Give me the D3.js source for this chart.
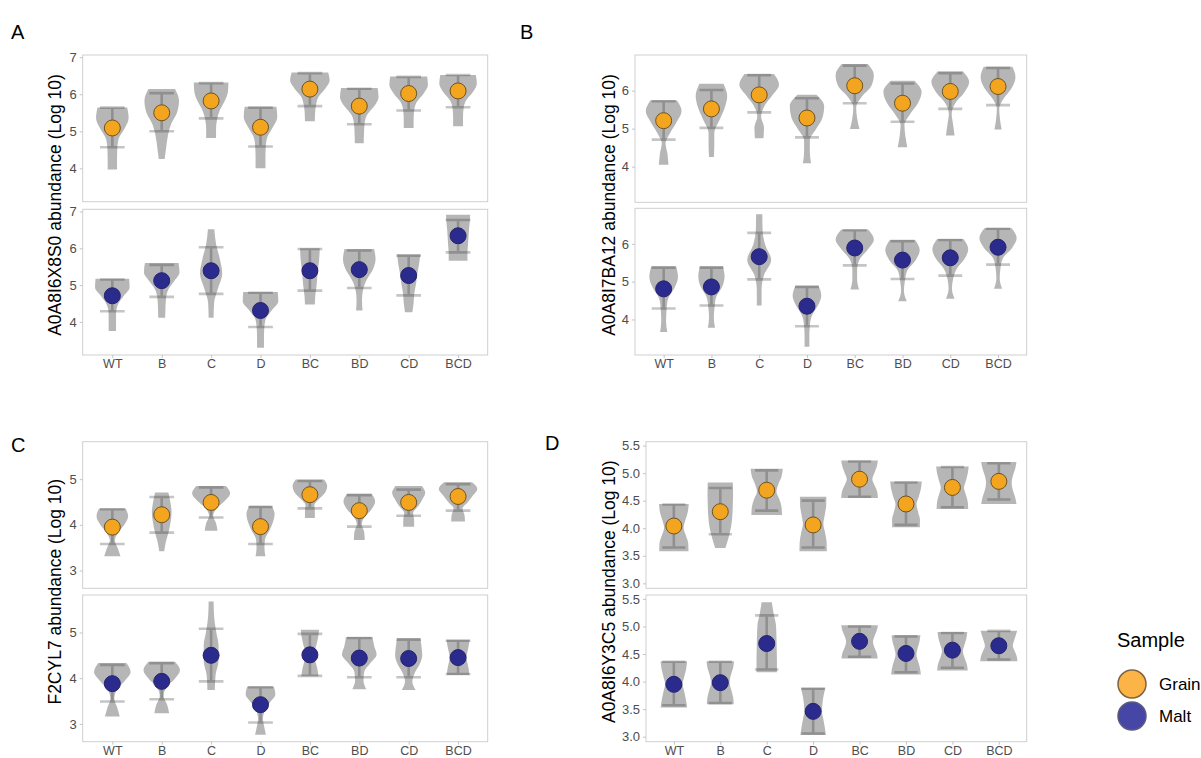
<!DOCTYPE html>
<html>
<head>
<meta charset="utf-8">
<script src="https://cdn.jsdelivr.net/npm/d3@7"></script>
<style>
  html, body { margin: 0; padding: 0; background: #ffffff; }
  svg { display: block; font-family: "Liberation Sans", Arial, Helvetica, sans-serif; }
</style>
</head>
<body>
<svg id="chart" width="1201" height="758"></svg>
<script>
// Genotype groups on the x axis
const categories = ["WT", "B", "C", "D", "BC", "BD", "CD", "BCD"];

// Each record: violin range (lo..hi), mean, error bar ends, and the violin's
// relative width (fraction of a category step) at 7 evenly spaced levels from lo to hi.
const aGrain = [
  { lo: 3.97, hi: 5.64, mean: 5.09, bar: [4.57, 5.64], w: [0.19, 0.19, 0.20, 0.26, 0.50, 0.66, 0.60] },
  { lo: 4.25, hi: 6.14, mean: 5.50, bar: [5.00, 6.03], w: [0.12, 0.18, 0.25, 0.38, 0.62, 0.70, 0.54] },
  { lo: 4.82, hi: 6.32, mean: 5.82, bar: [5.35, 6.30], w: [0.20, 0.20, 0.24, 0.35, 0.55, 0.68, 0.70] },
  { lo: 4.00, hi: 5.66, mean: 5.11, bar: [4.59, 5.64], w: [0.20, 0.20, 0.21, 0.27, 0.50, 0.68, 0.64] },
  { lo: 5.27, hi: 6.59, mean: 6.14, bar: [5.68, 6.57], w: [0.20, 0.21, 0.25, 0.35, 0.62, 0.80, 0.74] },
  { lo: 4.68, hi: 6.17, mean: 5.68, bar: [5.19, 6.15], w: [0.18, 0.19, 0.21, 0.30, 0.60, 0.78, 0.74] },
  { lo: 5.09, hi: 6.48, mean: 6.02, bar: [5.56, 6.47], w: [0.20, 0.20, 0.22, 0.32, 0.60, 0.78, 0.75] },
  { lo: 5.14, hi: 6.52, mean: 6.09, bar: [5.65, 6.52], w: [0.20, 0.20, 0.22, 0.32, 0.60, 0.76, 0.72] }
];
const aMalt = [
  { lo: 3.75, hi: 5.17, mean: 4.71, bar: [4.29, 5.15], w: [0.15, 0.15, 0.15, 0.22, 0.45, 0.70, 0.68] },
  { lo: 4.11, hi: 5.60, mean: 5.12, bar: [4.68, 5.55], w: [0.14, 0.15, 0.17, 0.25, 0.50, 0.72, 0.68] },
  { lo: 4.11, hi: 6.52, mean: 5.39, bar: [4.76, 6.03], w: [0.10, 0.12, 0.28, 0.45, 0.35, 0.20, 0.13] },
  { lo: 3.30, hi: 4.81, mean: 4.31, bar: [3.86, 4.79], w: [0.14, 0.14, 0.15, 0.20, 0.45, 0.72, 0.70] },
  { lo: 4.47, hi: 6.00, mean: 5.39, bar: [4.85, 5.98], w: [0.20, 0.22, 0.27, 0.30, 0.34, 0.38, 0.40] },
  { lo: 4.31, hi: 5.98, mean: 5.42, bar: [4.92, 5.94], w: [0.13, 0.11, 0.15, 0.30, 0.55, 0.66, 0.60] },
  { lo: 4.26, hi: 5.83, mean: 5.26, bar: [4.72, 5.80], w: [0.15, 0.20, 0.23, 0.30, 0.35, 0.42, 0.47] },
  { lo: 5.66, hi: 6.91, mean: 6.34, bar: [5.89, 6.77], w: [0.38, 0.38, 0.40, 0.42, 0.44, 0.47, 0.49] }
];
const bGrain = [
  { lo: 4.05, hi: 5.75, mean: 5.21, bar: [4.71, 5.72], w: [0.20, 0.16, 0.08, 0.28, 0.55, 0.75, 0.55] },
  { lo: 4.25, hi: 6.18, mean: 5.52, bar: [5.02, 6.02], w: [0.10, 0.12, 0.12, 0.33, 0.55, 0.66, 0.50] },
  { lo: 4.75, hi: 6.44, mean: 5.89, bar: [5.43, 6.41], w: [0.18, 0.20, 0.08, 0.22, 0.55, 0.83, 0.62] },
  { lo: 4.09, hi: 5.89, mean: 5.28, bar: [4.77, 5.80], w: [0.17, 0.12, 0.12, 0.38, 0.65, 0.72, 0.40] },
  { lo: 4.99, hi: 6.70, mean: 6.13, bar: [5.67, 6.66], w: [0.20, 0.10, 0.06, 0.30, 0.70, 0.80, 0.55] },
  { lo: 4.51, hi: 6.26, mean: 5.67, bar: [5.18, 6.19], w: [0.20, 0.12, 0.08, 0.32, 0.65, 0.80, 0.50] },
  { lo: 4.82, hi: 6.51, mean: 5.98, bar: [5.52, 6.46], w: [0.18, 0.12, 0.06, 0.20, 0.58, 0.79, 0.52] },
  { lo: 4.98, hi: 6.63, mean: 6.11, bar: [5.62, 6.60], w: [0.15, 0.08, 0.05, 0.25, 0.58, 0.73, 0.60] }
];
const bMalt = [
  { lo: 3.67, hi: 5.41, mean: 4.81, bar: [4.29, 5.37], w: [0.15, 0.10, 0.12, 0.18, 0.45, 0.60, 0.52] },
  { lo: 3.78, hi: 5.41, mean: 4.86, bar: [4.37, 5.37], w: [0.15, 0.10, 0.13, 0.20, 0.45, 0.55, 0.48] },
  { lo: 4.37, hi: 6.78, mean: 5.66, bar: [5.06, 6.29], w: [0.10, 0.10, 0.20, 0.50, 0.25, 0.14, 0.13] },
  { lo: 3.28, hi: 4.90, mean: 4.35, bar: [3.82, 4.86], w: [0.10, 0.10, 0.12, 0.20, 0.45, 0.60, 0.48] },
  { lo: 4.79, hi: 6.38, mean: 5.89, bar: [5.43, 6.36], w: [0.18, 0.10, 0.10, 0.20, 0.55, 0.80, 0.56] },
  { lo: 4.48, hi: 6.11, mean: 5.57, bar: [5.07, 6.07], w: [0.18, 0.06, 0.10, 0.20, 0.55, 0.72, 0.52] },
  { lo: 4.55, hi: 6.13, mean: 5.63, bar: [5.16, 6.10], w: [0.18, 0.07, 0.12, 0.27, 0.60, 0.75, 0.55] },
  { lo: 4.81, hi: 6.42, mean: 5.91, bar: [5.45, 6.40], w: [0.17, 0.07, 0.10, 0.20, 0.58, 0.78, 0.56] }
];
const cGrain = [
  { lo: 3.31, hi: 4.36, mean: 3.95, bar: [3.58, 4.34], w: [0.33, 0.22, 0.10, 0.25, 0.50, 0.64, 0.54] },
  { lo: 3.42, hi: 4.71, mean: 4.22, bar: [3.83, 4.61], w: [0.10, 0.17, 0.28, 0.36, 0.40, 0.35, 0.27] },
  { lo: 3.87, hi: 4.85, mean: 4.49, bar: [4.16, 4.82], w: [0.26, 0.20, 0.08, 0.22, 0.55, 0.77, 0.60] },
  { lo: 3.31, hi: 4.42, mean: 3.96, bar: [3.58, 4.39], w: [0.20, 0.16, 0.18, 0.35, 0.50, 0.57, 0.44] },
  { lo: 4.15, hi: 4.99, mean: 4.66, bar: [4.36, 4.96], w: [0.20, 0.20, 0.18, 0.38, 0.62, 0.70, 0.57] },
  { lo: 3.67, hi: 4.68, mean: 4.31, bar: [3.96, 4.65], w: [0.22, 0.20, 0.10, 0.22, 0.50, 0.64, 0.50] },
  { lo: 3.96, hi: 4.85, mean: 4.49, bar: [4.20, 4.77], w: [0.22, 0.22, 0.18, 0.38, 0.55, 0.67, 0.54] },
  { lo: 4.07, hi: 4.93, mean: 4.62, bar: [4.31, 4.89], w: [0.28, 0.26, 0.18, 0.40, 0.60, 0.78, 0.57] }
];
const cMalt = [
  { lo: 3.16, hi: 4.33, mean: 3.88, bar: [3.49, 4.29], w: [0.30, 0.20, 0.08, 0.18, 0.50, 0.74, 0.57] },
  { lo: 3.23, hi: 4.36, mean: 3.93, bar: [3.54, 4.33], w: [0.30, 0.22, 0.08, 0.18, 0.52, 0.74, 0.54] },
  { lo: 3.74, hi: 5.68, mean: 4.50, bar: [3.93, 5.08], w: [0.15, 0.18, 0.30, 0.30, 0.20, 0.12, 0.10] },
  { lo: 2.76, hi: 3.82, mean: 3.42, bar: [3.03, 3.80], w: [0.22, 0.15, 0.10, 0.18, 0.38, 0.60, 0.54] },
  { lo: 4.04, hi: 5.06, mean: 4.51, bar: [4.05, 4.97], w: [0.35, 0.30, 0.22, 0.18, 0.26, 0.33, 0.37] },
  { lo: 3.76, hi: 4.90, mean: 4.44, bar: [4.02, 4.88], w: [0.28, 0.17, 0.20, 0.45, 0.70, 0.60, 0.54] },
  { lo: 3.74, hi: 4.88, mean: 4.43, bar: [4.02, 4.84], w: [0.28, 0.15, 0.25, 0.45, 0.55, 0.52, 0.47] },
  { lo: 4.07, hi: 4.84, mean: 4.45, bar: [4.09, 4.82], w: [0.45, 0.43, 0.38, 0.34, 0.38, 0.43, 0.47] }
];
const dGrain = [
  { lo: 3.58, hi: 4.44, mean: 4.04, bar: [3.65, 4.43], w: [0.63, 0.62, 0.52, 0.42, 0.50, 0.60, 0.64] },
  { lo: 3.64, hi: 4.83, mean: 4.30, bar: [3.89, 4.73], w: [0.22, 0.36, 0.47, 0.52, 0.54, 0.55, 0.54] },
  { lo: 4.24, hi: 5.08, mean: 4.69, bar: [4.32, 5.05], w: [0.66, 0.64, 0.55, 0.42, 0.50, 0.64, 0.69] },
  { lo: 3.58, hi: 4.57, mean: 4.06, bar: [3.65, 4.50], w: [0.59, 0.58, 0.52, 0.44, 0.50, 0.56, 0.57] },
  { lo: 4.55, hi: 5.23, mean: 4.89, bar: [4.57, 5.21], w: [0.79, 0.76, 0.65, 0.55, 0.64, 0.74, 0.79] },
  { lo: 4.02, hi: 4.85, mean: 4.44, bar: [4.06, 4.83], w: [0.60, 0.60, 0.52, 0.45, 0.55, 0.64, 0.68] },
  { lo: 4.35, hi: 5.12, mean: 4.74, bar: [4.38, 5.11], w: [0.68, 0.66, 0.58, 0.50, 0.58, 0.66, 0.70] },
  { lo: 4.44, hi: 5.20, mean: 4.85, bar: [4.52, 5.18], w: [0.76, 0.70, 0.60, 0.55, 0.60, 0.70, 0.76] }
];
const dMalt = [
  { lo: 3.53, hi: 4.37, mean: 3.95, bar: [3.57, 4.36], w: [0.57, 0.52, 0.45, 0.38, 0.45, 0.53, 0.57] },
  { lo: 3.59, hi: 4.37, mean: 3.98, bar: [3.61, 4.36], w: [0.58, 0.55, 0.47, 0.40, 0.45, 0.55, 0.59] },
  { lo: 4.17, hi: 5.44, mean: 4.69, bar: [4.22, 5.20], w: [0.44, 0.44, 0.43, 0.42, 0.40, 0.30, 0.22] },
  { lo: 3.03, hi: 3.89, mean: 3.46, bar: [3.06, 3.87], w: [0.55, 0.50, 0.44, 0.38, 0.40, 0.45, 0.53] },
  { lo: 4.42, hi: 5.02, mean: 4.73, bar: [4.45, 5.00], w: [0.78, 0.74, 0.64, 0.58, 0.64, 0.74, 0.79] },
  { lo: 4.13, hi: 4.84, mean: 4.51, bar: [4.17, 4.82], w: [0.64, 0.60, 0.52, 0.45, 0.50, 0.58, 0.62] },
  { lo: 4.20, hi: 4.90, mean: 4.57, bar: [4.25, 4.88], w: [0.66, 0.62, 0.52, 0.45, 0.52, 0.60, 0.64] },
  { lo: 4.37, hi: 4.92, mean: 4.65, bar: [4.40, 4.92], w: [0.80, 0.77, 0.68, 0.60, 0.65, 0.72, 0.79] }
];

// Axis ticks and titles for each protein
const ticksA = [4, 5, 6, 7];
const ticksB = [4, 5, 6];
const ticksC = [3, 4, 5];
const ticksD = [3.0, 3.5, 4.0, 4.5, 5.0, 5.5];
const proteins = ["A0A8I6X8S0", "A0A8I7BA12", "F2CYL7", "A0A8I6Y3C5"];
const samples = ["Grain", "Malt"];

const colors = {
  Grain: { fill: "#F4A51F", stroke: "#6e5220" },
  Malt:  { fill: "#2B2B8E", stroke: "#23236f" }
};

const svg = d3.select("#chart");

// Panel layout: frame x-range, two stacked row y-ranges, and y-domain
const panels = [
  { letter: "A", lx: 11, ly: 39, x: [82.7, 487.7], rows: [[55, 201.7], [209.3, 355]], dom: [3.1, 7.06], ticks: ticksA, fmt: d3.format("d"), title: proteins[0], data: [aGrain, aMalt], titleX: 61 },
  { letter: "B", lx: 520, ly: 39, x: [635, 1026.7], rows: [[55, 202.3], [208.3, 355]], dom: [3.06, 6.94], ticks: ticksB, fmt: d3.format("d"), title: proteins[1], data: [bGrain, bMalt], titleX: 615 },
  { letter: "C", lx: 11, ly: 452, x: [82.7, 487.7], rows: [[441.7, 588.3], [595, 741.7]], dom: [2.61, 5.82], ticks: ticksC, fmt: d3.format("d"), title: proteins[2], data: [cGrain, cMalt], titleX: 61 },
  { letter: "D", lx: 545, ly: 450, x: [646, 1026.7], rows: [[441.7, 588.3], [595, 741.7]], dom: [2.91, 5.57], ticks: ticksD, fmt: d3.format(".1f"), title: proteins[3], data: [dGrain, dMalt], titleX: 615 }
];

panels.forEach(p => {
  const g = svg.append("g");
  g.append("text")
    .attr("x", p.lx).attr("y", p.ly)
    .attr("font-size", 20).attr("fill", "#000")
    .text(p.letter);

  const x = d3.scalePoint().domain(categories).range(p.x).padding(0.6);
  const step = x.step();

  p.rows.forEach((r, ri) => {
    const y = d3.scaleLinear().domain(p.dom).range([r[1], r[0]]);
    const rowG = g.append("g");
    const sample = samples[ri];
    const rows = p.data[ri];

    // panel border
    rowG.append("rect")
      .attr("x", p.x[0]).attr("y", r[0])
      .attr("width", p.x[1] - p.x[0]).attr("height", r[1] - r[0])
      .attr("fill", "none").attr("stroke", "#cfcfcf").attr("stroke-width", 1);

    // y axis
    const yAxis = d3.axisLeft(y).tickValues(p.ticks).tickFormat(p.fmt).tickSize(3).tickPadding(3);
    const ya = rowG.append("g").attr("transform", `translate(${p.x[0]},0)`).call(yAxis);
    ya.select(".domain").remove();
    ya.selectAll(".tick line").attr("stroke", "#c4c4c4");
    ya.selectAll(".tick text").attr("fill", "#4d4d4d").attr("font-size", 13)
      .attr("font-family", "Liberation Sans, Arial, sans-serif");

    // x axis on the lower row only
    if (ri === 1) {
      const xAxis = d3.axisBottom(x).tickSize(3).tickPadding(1);
      const xa = rowG.append("g").attr("transform", `translate(0,${r[1]})`).call(xAxis);
      xa.select(".domain").remove();
      xa.selectAll(".tick line").attr("stroke", "#c4c4c4");
      xa.selectAll(".tick text").attr("fill", "#4d4d4d").attr("font-size", 12.5)
        .attr("font-family", "Liberation Sans, Arial, sans-serif");
    }

    // violins
    const area = d3.area()
      .y(d => y(d.v))
      .x0(d => d.cx - d.h)
      .x1(d => d.cx + d.h)
      .curve(d3.curveMonotoneY);

    rows.forEach((d, i) => {
      const cx = x(categories[i]);
      const n = d.w.length;
      const pts = d.w.map((wv, k) => ({ v: d.lo + (d.hi - d.lo) * k / (n - 1), h: wv * step / 2, cx }))
        .reverse(); // top to bottom, pixel y ascending
      rowG.append("path")
        .attr("d", area(pts))
        .attr("fill", "#b6b6b6");
    });

    // error bars
    rows.forEach((d, i) => {
      const cx = x(categories[i]);
      const hw = step * 0.25;
      const yl = y(d.bar[0]), yh = y(d.bar[1]);
      rowG.append("path")
        .attr("d", `M${cx - hw},${yh}H${cx + hw}M${cx},${yh}V${yl}M${cx - hw},${yl}H${cx + hw}`)
        .attr("fill", "none")
        .attr("stroke", "rgba(45,45,45,0.28)")
        .attr("stroke-width", 2.6);
    });

    // mean points
    rows.forEach((d, i) => {
      rowG.append("circle")
        .attr("cx", x(categories[i]))
        .attr("cy", y(d.mean))
        .attr("r", 8)
        .attr("fill", colors[sample].fill)
        .attr("stroke", colors[sample].stroke)
        .attr("stroke-width", 1);
    });
  });

  // shared y-axis title
  const midY = (p.rows[0][0] + p.rows[1][1]) / 2;
  g.append("text")
    .attr("transform", `translate(${p.titleX},${midY}) rotate(-90)`)
    .attr("text-anchor", "middle")
    .attr("font-size", 17.5)
    .attr("fill", "#000")
    .text(`${p.title} abundance (Log 10)`);
});

// legend
const legend = svg.append("g");
legend.append("text")
  .attr("x", 1117).attr("y", 647)
  .attr("font-size", 20).attr("fill", "#000")
  .text("Sample");
const legendColors = { Grain: { fill: "#FDB446", stroke: "#7d6440" }, Malt: { fill: "#4646A6", stroke: "#5b5b7e" } };
samples.forEach((s, i) => {
  const cy = 684 + i * 32;
  legend.append("circle")
    .attr("cx", 1132).attr("cy", cy).attr("r", 14)
    .attr("fill", legendColors[s].fill)
    .attr("stroke", legendColors[s].stroke).attr("stroke-width", 1.5);
  legend.append("text")
    .attr("x", 1159).attr("y", cy + 6)
    .attr("font-size", 17).attr("fill", "#000")
    .text(s);
});
</script>
</body>
</html>
